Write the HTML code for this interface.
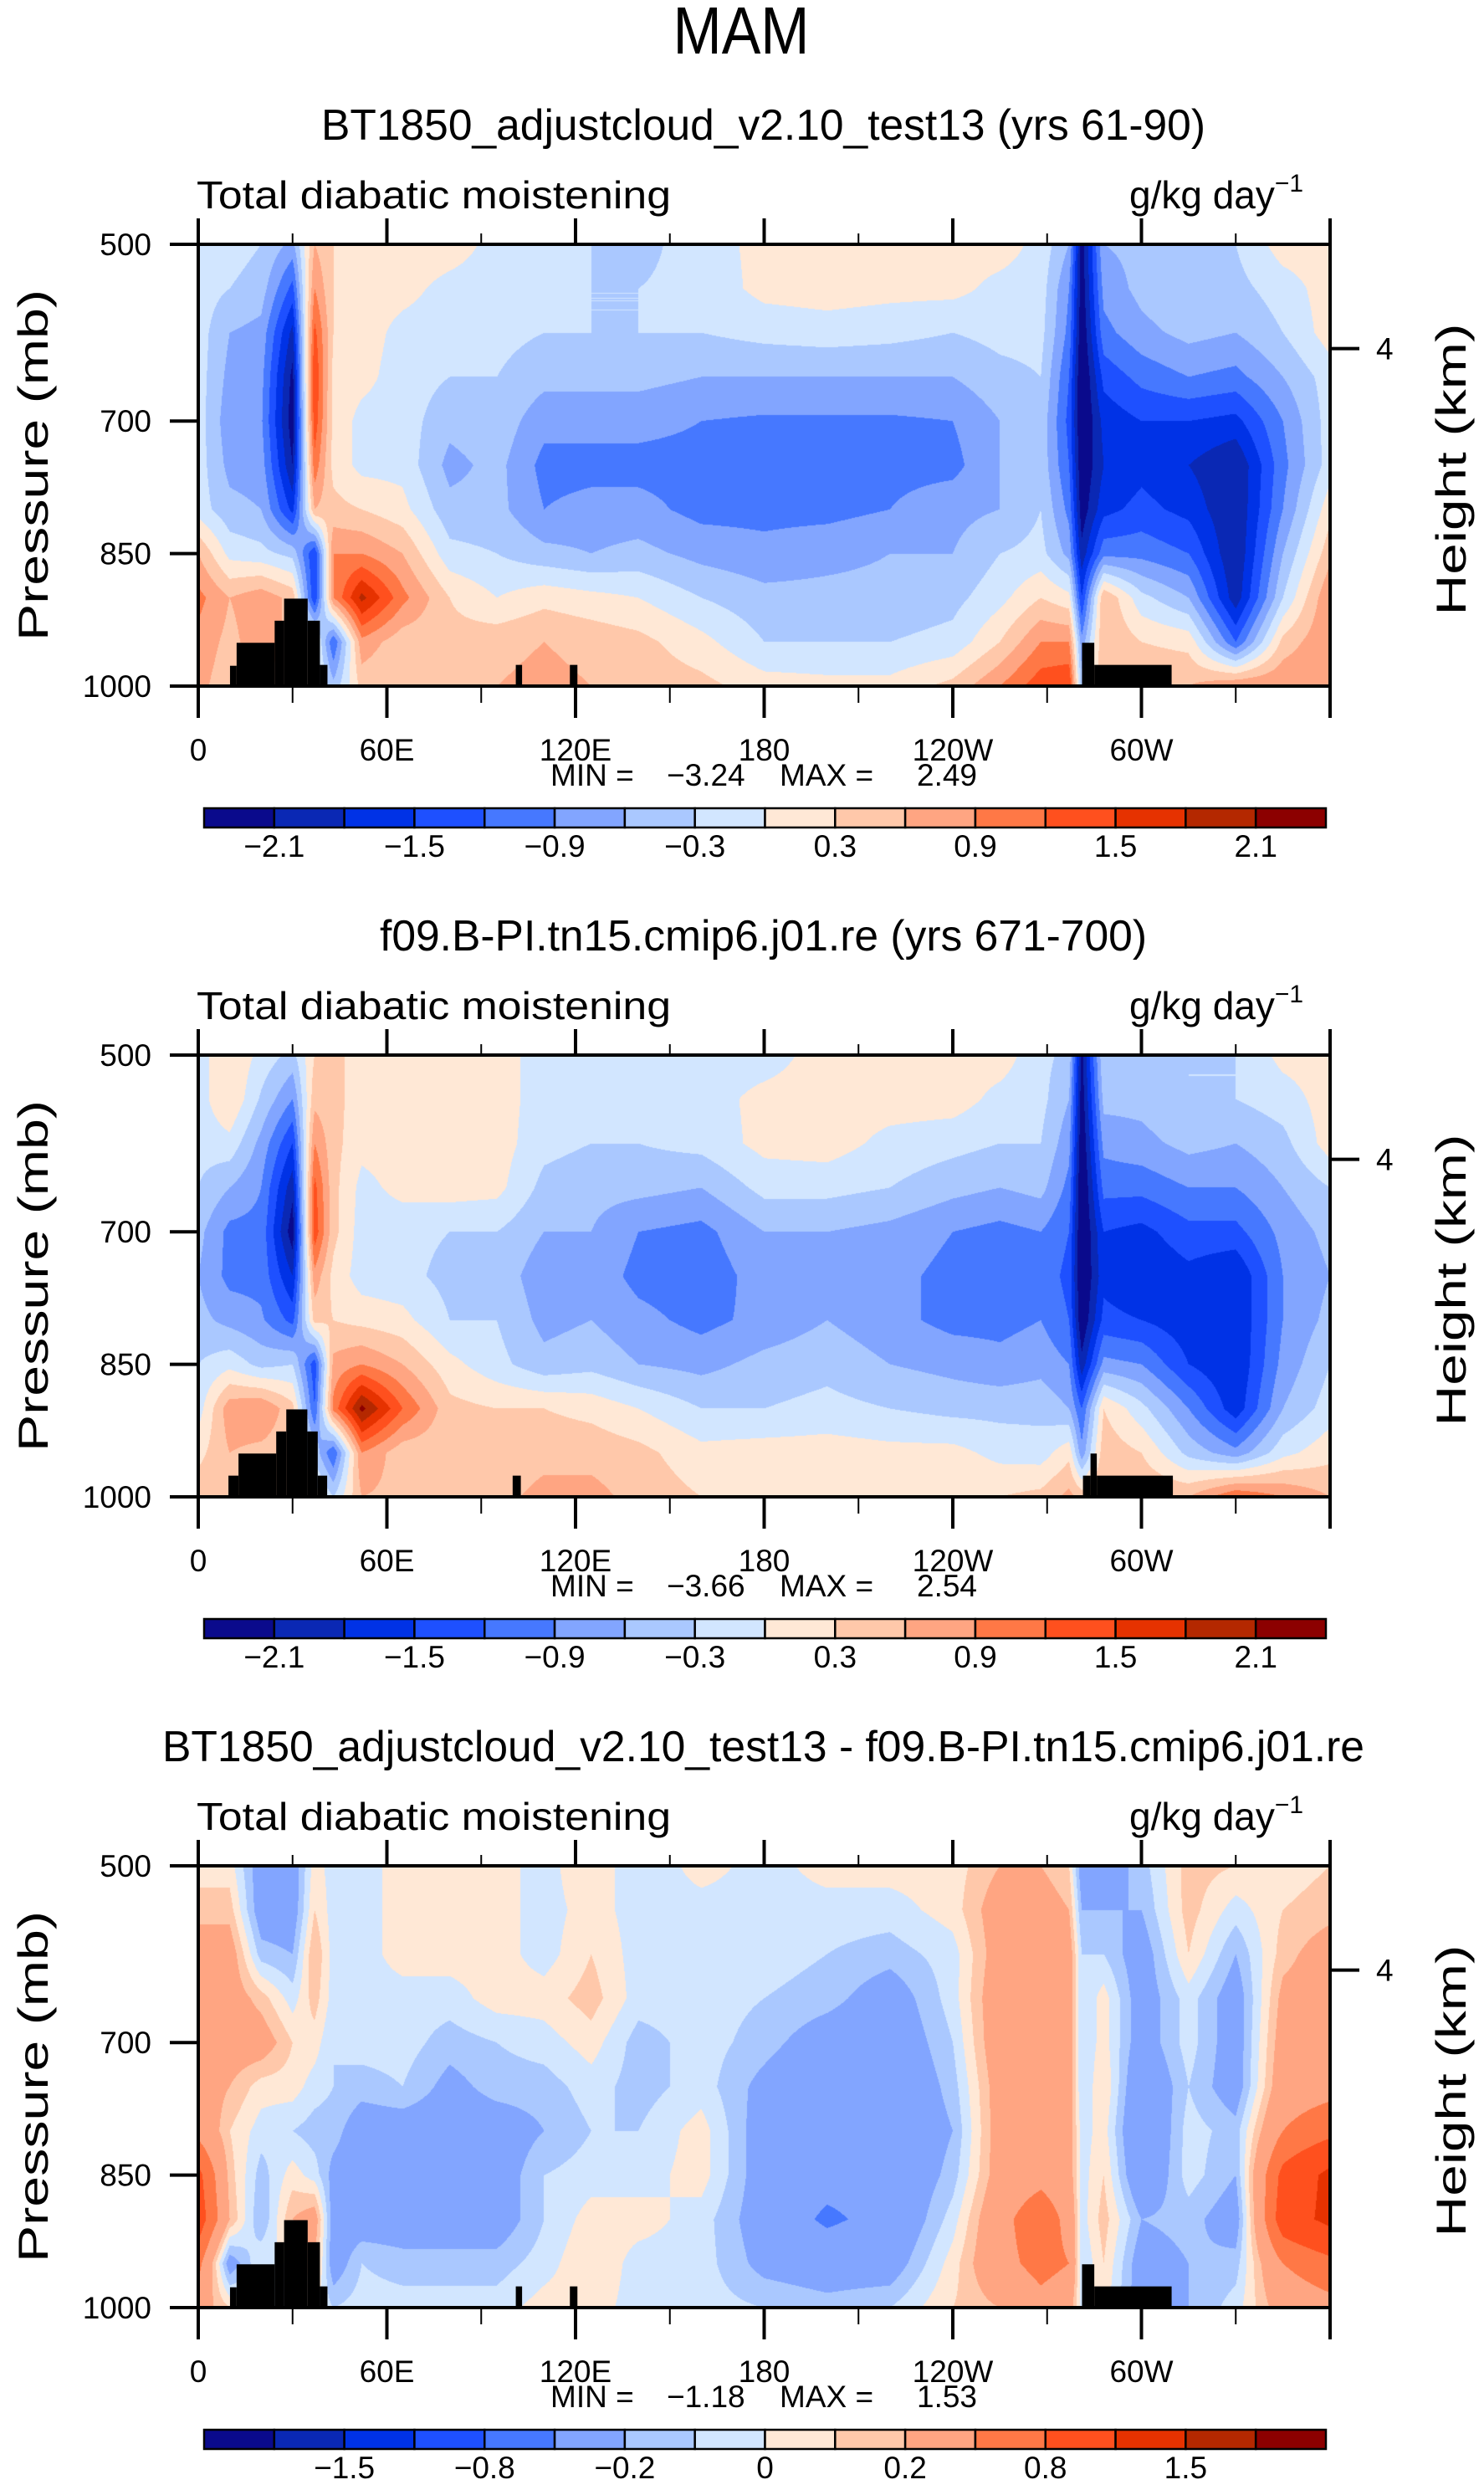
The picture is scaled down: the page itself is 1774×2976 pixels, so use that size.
<!DOCTYPE html>
<html><head><meta charset="utf-8"><title>MAM Total diabatic moistening</title>
<style>
body{margin:0;width:1774px;height:2976px;background:#fff;position:relative;overflow:hidden;font-family:"Liberation Sans",sans-serif}
canvas{position:absolute}
svg{position:absolute;left:0;top:0}
text{font-family:"Liberation Sans",sans-serif;fill:#000}
</style></head>
<body>
<canvas id="c0" width="1353" height="528" style="left:237px;top:292px"></canvas>
<canvas id="c1" width="1353" height="528" style="left:237px;top:1261px"></canvas>
<canvas id="c2" width="1353" height="528" style="left:237px;top:2230px"></canvas>
<svg id="s" width="1774" height="2976" xmlns="http://www.w3.org/2000/svg">
<text x="886" y="64" font-size="80" text-anchor="middle" textLength="163" lengthAdjust="spacingAndGlyphs">MAM</text>
</svg>
<script>
// ---- data ----
const lons=[0,10,20,30,37,43,52,65,80,95,110,125,140,160,180,200,220,240,255,268,277,281,288,300,315,330,345,360];
const pres=[500,550,600,650,700,750,800,850,900,950,1000];
const field1=[
[-0.15,-0.15,-0.15,-0.15,-0.15,-0.15,-0.15,0.6,1.0,0.8,0.7],
[-0.15,-0.3,-0.6,-0.7,-0.8,-0.7,-0.5,-0.1,0.6,0.5,0.4],
[-0.3,-0.45,-0.7,-0.8,-0.85,-0.75,-0.6,-0.2,0.8,0.8,0.6],
[-0.7,-1.3,-1.9,-2.2,-2.3,-2.1,-1.6,-0.4,0.5,0.5,0.4],
[0.6,0.9,1.3,1.5,1.4,1.1,0.6,-1.5,-1.5,0.2,0.2],
[0.3,0.3,0.3,0.2,0.2,0.2,0.4,0.9,0.9,-1.2,-0.5],
[0.2,0.15,0.15,0.1,-0.1,-0.1,0.3,0.9,1.9,0.8,0.4],
[0.2,0.1,-0.1,-0.15,-0.15,-0.1,0.1,0.6,1.0,0.4,0.3],
[0.15,-0.1,-0.15,-0.3,-0.5,-0.7,-0.5,-0.2,0.3,0.4,0.4],
[-0.1,-0.15,-0.2,-0.3,-0.4,-0.5,-0.5,-0.3,0.0,0.5,0.6],
[-0.15,-0.2,-0.3,-0.5,-0.8,-1.0,-0.9,-0.5,0.2,0.6,0.7],
[-0.3,-0.3,-0.3,-0.5,-0.8,-1.0,-0.8,-0.6,0.1,0.5,0.6],
[-0.4,-0.3,-0.3,-0.5,-0.8,-1.0,-0.8,-0.5,0.0,0.4,0.5],
[-0.15,-0.2,-0.3,-0.6,-0.9,-1.0,-1.0,-0.7,-0.3,0.1,0.4],
[0.1,0.1,-0.2,-0.6,-0.95,-1.0,-1.0,-0.8,-0.5,-0.3,0.15],
[0.15,0.15,-0.15,-0.6,-0.95,-1.0,-1.0,-0.7,-0.5,-0.3,0.1],
[0.15,0.1,-0.2,-0.6,-0.95,-1.0,-0.9,-0.6,-0.5,-0.3,0.1],
[0.15,0.1,-0.3,-0.6,-0.9,-1.0,-0.7,-0.6,-0.4,-0.2,0.4],
[0.15,-0.1,-0.2,-0.4,-0.6,-0.6,-0.6,-0.3,-0.1,0.3,0.9],
[-0.1,-0.15,-0.2,-0.3,-0.4,-0.4,-0.3,-0.2,0.3,0.9,1.4],
[-0.6,-0.9,-1.0,-1.2,-1.3,-1.2,-1.0,-0.7,0.1,0.9,1.5],
[-2.3,-2.3,-2.4,-2.5,-2.5,-2.4,-2.3,-2.0,-1.5,-0.8,-0.5],
[-0.6,-0.8,-1.0,-1.4,-1.7,-1.8,-1.6,-1.0,0.6,0.6,0.6],
[-0.5,-0.5,-0.7,-1.1,-1.5,-1.6,-1.4,-1.0,-0.2,0.3,0.6],
[-0.4,-0.3,-0.5,-0.9,-1.5,-1.8,-1.6,-1.2,-0.6,0.2,0.6],
[-0.3,-0.4,-0.6,-1.0,-1.6,-2.1,-2.1,-2.1,-2.0,-1.2,0.9],
[0.15,-0.15,-0.3,-0.6,-0.9,-1.0,-0.9,-0.6,-0.3,0.4,0.9],
[0.15,0.15,0.15,-0.15,-0.15,-0.15,0.2,0.5,0.9,0.9,0.9]];
const field2=[
[-0.15,-0.15,-0.2,-0.3,-0.5,-0.6,-0.5,-0.3,-0.15,0.2,0.5],
[0.3,0.3,-0.1,-0.6,-1.0,-1.0,-0.7,-0.1,0.8,0.6,0.5],
[-0.1,-0.35,-0.7,-0.9,-1.0,-1.0,-0.85,-0.4,0.9,0.5,0.4],
[-0.4,-0.9,-1.5,-2.0,-2.3,-1.8,-1.3,-0.3,0.4,0.4,0.3],
[0.3,0.5,0.9,1.3,1.4,0.8,0.4,-1.4,-1.2,-0.4,0.2],
[0.4,0.4,0.4,0.4,0.4,0.2,0.3,0.7,1.0,-1.2,-0.3],
[0.15,0.15,0.1,-0.1,-0.15,-0.15,0.2,0.9,2.2,0.9,0.6],
[0.15,0.15,0.15,0.1,-0.2,-0.2,0.1,0.6,1.2,0.4,0.5],
[0.15,0.2,0.15,0.15,-0.3,-0.4,-0.3,0.1,0.4,0.4,0.6],
[0.15,0.15,0.15,0.1,-0.3,-0.4,-0.3,-0.2,0.3,0.4,0.5],
[-0.15,-0.15,-0.2,-0.4,-0.6,-0.8,-0.7,-0.5,0.3,0.5,0.7],
[-0.3,-0.3,-0.3,-0.5,-0.6,-0.7,-0.6,-0.4,0.2,0.5,0.7],
[-0.3,-0.2,-0.3,-0.5,-0.9,-1.0,-0.8,-0.6,0.0,0.4,0.5],
[-0.15,-0.15,-0.2,-0.6,-1.0,-1.1,-1.0,-0.7,-0.3,0.1,0.3],
[-0.15,0.1,0.1,-0.2,-0.6,-0.75,-0.8,-0.5,-0.3,0.15,0.3],
[0.15,0.15,0.15,-0.2,-0.6,-0.7,-0.6,-0.4,-0.2,0.15,0.3],
[0.15,0.15,-0.1,-0.3,-0.7,-0.8,-0.8,-0.6,-0.3,0.1,0.3],
[0.15,0.15,-0.2,-0.5,-0.9,-1.0,-1.0,-0.7,-0.4,0.1,0.3],
[0.15,-0.1,-0.3,-0.6,-1.0,-1.0,-1.0,-0.8,-0.4,-0.1,0.3],
[-0.2,-0.2,-0.3,-0.5,-0.9,-1.0,-0.9,-0.7,-0.4,-0.15,0.4],
[-0.4,-0.6,-0.8,-1.0,-1.2,-1.3,-1.2,-0.9,-0.6,0.2,0.7],
[-2.2,-2.3,-2.4,-2.5,-2.5,-2.5,-2.4,-2.0,-1.2,-0.8,0.5],
[-0.3,-0.5,-0.8,-1.1,-1.5,-1.6,-1.4,-0.8,0.3,0.5,0.6],
[-0.4,-0.5,-0.7,-1.1,-1.6,-1.8,-1.5,-0.9,-0.2,0.3,0.6],
[-0.3,-0.3,-0.5,-0.9,-1.3,-1.6,-1.7,-1.5,-0.9,-0.4,0.6],
[-0.3,-0.3,-0.6,-0.9,-1.3,-1.8,-1.8,-1.8,-1.7,-0.8,1.2],
[0.1,-0.15,-0.4,-0.6,-0.8,-0.9,-0.9,-0.8,-0.6,-0.1,0.9],
[0.15,0.15,0.15,-0.3,-0.5,-0.6,-0.5,-0.3,-0.15,0.2,0.6]];
const field3=[
[0.05,0.15,0.3,0.3,0.3,0.3,0.4,0.9,1.0,0.6,0.3],
[0.05,0.15,0.3,0.3,0.3,0.2,0.1,0.15,0.2,-0.3,0.1],
[-0.3,-0.3,-0.15,0.15,0.3,0.05,-0.05,-0.15,-0.2,0,0],
[-0.3,-0.3,-0.2,-0.05,0.1,0.05,-0.1,0.05,0.2,0,0],
[0.05,0.1,0.2,0.15,0.05,-0.05,-0.15,-0.05,0.3,0.2,0],
[-0.05,-0.05,-0.05,-0.05,-0.1,-0.1,-0.15,-0.25,-0.3,-0.3,-0.1],
[-0.05,-0.05,-0.05,-0.05,-0.05,-0.15,-0.3,-0.3,-0.3,-0.1,-0.05],
[0.05,0.05,0.05,-0.05,-0.05,-0.1,-0.3,-0.3,-0.3,-0.15,-0.05],
[0.05,0.05,0.05,-0.05,-0.15,-0.25,-0.3,-0.35,-0.3,-0.15,-0.05],
[0.05,0.05,0.05,0.05,-0.1,-0.15,-0.3,-0.3,-0.3,-0.15,-0.05],
[-0.05,-0.05,-0.05,0.05,-0.05,-0.15,-0.2,-0.1,-0.1,-0.05,0.05],
[0.1,0.05,0.1,0.15,0.05,-0.05,-0.1,-0.05,0.05,0.1,0.05],
[-0.1,-0.05,-0.05,-0.05,-0.15,-0.15,-0.1,-0.05,0.05,-0.05,-0.05],
[0.05,-0.05,-0.05,-0.05,-0.05,-0.05,0.05,0.05,-0.05,-0.05,-0.05],
[-0.05,-0.05,-0.05,-0.1,-0.15,-0.25,-0.3,-0.3,-0.3,-0.25,-0.1],
[0.05,-0.05,-0.1,-0.15,-0.3,-0.4,-0.45,-0.4,-0.55,-0.3,-0.15],
[0.05,-0.05,-0.15,-0.3,-0.35,-0.4,-0.4,-0.4,-0.4,-0.3,-0.1],
[0.05,0.05,-0.05,-0.05,-0.1,-0.15,-0.2,-0.15,-0.05,0.05,0.1],
[0.2,0.3,0.3,0.35,0.35,0.3,0.3,0.3,0.4,0.4,0.2],
[0.2,0.3,0.35,0.4,0.4,0.4,0.35,0.4,0.7,0.6,0.4],
[0.1,0.2,0.3,0.3,0.3,0.3,0.3,0.3,0.4,0.5,0.3],
[-0.3,-0.2,-0.1,-0.1,-0.1,-0.1,-0.05,-0.05,-0.05,-0.1,-0.05],
[-0.3,-0.2,-0.1,0.05,0.05,0.1,0.05,0.1,0.15,0.1,0.05],
[-0.15,-0.2,-0.3,-0.3,-0.3,-0.4,-0.45,-0.4,-0.2,-0.3,-0.3],
[0.15,0.15,0.1,-0.05,-0.05,-0.1,-0.05,-0.05,-0.15,-0.2,-0.2],
[0.1,-0.05,-0.2,-0.3,-0.3,-0.3,-0.15,-0.2,-0.3,-0.15,-0.05],
[0.05,0.1,0.15,0.25,0.3,0.35,0.5,0.9,1.0,0.5,0.3],
[0.1,0.15,0.3,0.3,0.35,0.4,0.7,1.3,1.3,0.7,0.4]];
const levelsAbs=[-2.1,-1.8,-1.5,-1.2,-0.9,-0.6,-0.3,0,0.3,0.6,0.9,1.2,1.5,1.8,2.1];
const levelsDiff=[-1.8,-1.5,-1.2,-0.8,-0.5,-0.2,-0.1,0,0.1,0.2,0.5,0.8,1.2,1.5,1.8];
const colors=["#0a0a8c","#0a28b4","#0032e6","#1e50ff","#4678ff","#82a5ff","#aac8ff","#d2e6ff","#ffe8d6","#ffc8aa","#ffa582","#ff7846","#ff501e","#e63200","#b42800","#8c0000"];
const labelsAbs=["−2.1","−1.5","−0.9","−0.3","0.3","0.9","1.5","2.1"];
const labelIdxAbs=[1,3,5,7,9,11,13,15];
const labelsDiff=["−1.5","−0.8","−0.2","0","0.2","0.8","1.5"];
const labelIdxDiff=[2,4,6,8,10,12,14];
const xTickLons=[0,30,60,90,120,150,180,210,240,270,300,330,360];
const xLabelLons=[0,60,120,180,240,300];
const xLabels=["0","60E","120E","180","120W","60W"];
const yTickP=[500,700,850,1000];
const yLabels=["500","700","850","1000"];
const heightTickP=[618];
const heightLabels=["4"];
const terrainLon0A=[10.1,12.2,24.3,27.3,34.8,38.7,101,118.2,281.1,285];
const terrainLon1A=[12.2,24.3,27.3,34.8,38.7,41.1,103,120.6,285,309.6];
const terrainTopA=[977,951,926,901,926,976,976,976,951,976];
const terrainLon0B=[9.6,12.8,24.8,28,34.7,38,100,281.4,283.8,285.8];
const terrainLon1B=[12.8,24.8,28,34.7,38,41,102.6,283.8,285.8,310];
const terrainTopB=[976,951,926,901,926,976,976,976,951,976];
const titles=["BT1850_adjustcloud_v2.10_test13 (yrs 61-90)","f09.B-PI.tn15.cmip6.j01.re (yrs 671-700)","BT1850_adjustcloud_v2.10_test13 - f09.B-PI.tn15.cmip6.j01.re"];
const titleX0=[384,454,194];
const titleX1=[1441,1371,1631];
const minVals=["−3.24","−3.66","−1.18"];
const maxVals=["2.49","2.54","1.53"];

// ---- layout ----
const PL=237,PW=1353,PH=528;
const panelTops=[292,1261,2230];
const NS="http://www.w3.org/2000/svg";
const svg=document.getElementById('s');
function xS(lon){return PL+lon/360*PW;}
function yS(p,top){return top+(p-500)/500*PH;}
function mk(tag,attrs,parent){const e=document.createElementNS(NS,tag);for(const k in attrs)e.setAttribute(k,attrs[k]);(parent||svg).appendChild(e);return e;}

function drawField(cv,field,levels){
  const ctx=cv.getContext('2d');const img=ctx.createImageData(PW,PH);const d=img.data;
  const rgb=colors.map(c=>[parseInt(c.substr(1,2),16),parseInt(c.substr(3,2),16),parseInt(c.substr(5,2),16)]);
  const ci=new Int32Array(PW),cf=new Float32Array(PW);
  for(let x=0;x<PW;x++){const lon=(x+0.5)/PW*360;let i=0;while(i<lons.length-2&&lon>lons[i+1])i++;ci[x]=i;cf[x]=(lon-lons[i])/(lons[i+1]-lons[i]);}
  for(let y=0;y<PH;y++){
    const p=500+(y+0.5)/PH*500;let j=Math.min(9,Math.floor((p-500)/50));const fy=(p-pres[j])/50;
    for(let x=0;x<PW;x++){
      const i=ci[x],fx=cf[x];
      const a=field[i][j]*(1-fx)+field[i+1][j]*fx;
      const b=field[i][j+1]*(1-fx)+field[i+1][j+1]*fx;
      const v=a*(1-fy)+b*fy;
      let k=0;while(k<levels.length&&v>levels[k])k++;
      const c=rgb[k],o=(y*PW+x)*4;d[o]=c[0];d[o+1]=c[1];d[o+2]=c[2];d[o+3]=255;
    }
  }
  ctx.putImageData(img,0,0);
}
const fields=[field1,field2,field3];
const levs=[levelsAbs,levelsAbs,levelsDiff];
for(let k=0;k<3;k++)drawField(document.getElementById('c'+k),fields[k],levs[k]);

const CBX=244,CBW=1341,CBH=23;
for(let k=0;k<3;k++){
  const top=panelTops[k];
  const g=mk('g',{});
  
  
  const t0=k===1?terrainLon0B:terrainLon0A,t1=k===1?terrainLon1B:terrainLon1A,tt=k===1?terrainTopB:terrainTopA;
  for(let i=0;i<t0.length;i++){
    const r=mk('rect',{x:xS(t0[i]),y:yS(tt[i],top),width:xS(t1[i])-xS(t0[i]),height:yS(1000,top)-yS(tt[i],top),fill:'#000'},g);
    
    
  }
  const fr=mk('rect',{x:PL,y:top,width:PW,height:PH,fill:'none',stroke:'#000','stroke-width':4},g);
  
  
  for(const lon of xTickLons){
    const maj=lon%60===0;const x=xS(lon);
    const t1e=mk('line',{x1:x,x2:x,y1:top,y2:top-(maj?31:13),stroke:'#000','stroke-width':maj?4:2},g);
    
    
    const t2e=mk('line',{x1:x,x2:x,y1:top+PH,y2:top+PH+(maj?38:20),stroke:'#000','stroke-width':maj?4:2},g);
    
    
  }
  for(let i=0;i<xLabelLons.length;i++){
    const tx=mk('text',{x:xS(xLabelLons[i]),y:top+PH+89,'font-size':37,'text-anchor':'middle'},g);
    tx.textContent=xLabels[i];
    
    
  }
  for(let i=0;i<yTickP.length;i++){
    const y=yS(yTickP[i],top);
    const ln=mk('line',{x1:PL,x2:PL-34,y1:y,y2:y,stroke:'#000','stroke-width':4},g);
    
    
    const tx=mk('text',{x:181,y:y+13,'font-size':37,'text-anchor':'end'},g);
    tx.textContent=yLabels[i];
    
    
  }
  for(let i=0;i<heightTickP.length;i++){
    const y=yS(heightTickP[i],top);
    const ln=mk('line',{x1:PL+PW,x2:PL+PW+35,y1:y,y2:y,stroke:'#000','stroke-width':4},g);
    
    
    const tx=mk('text',{x:1645,y:y+13,'font-size':37},g);
    tx.textContent=heightLabels[i];
    
    
  }
  const yt=mk('text',{x:0,y:0,'font-size':50,'text-anchor':'middle',textLength:420,lengthAdjust:'spacingAndGlyphs',transform:`translate(57,${top+264}) rotate(-90)`},g);
  yt.textContent='Pressure  (mb)';
  
  
  const ht=mk('text',{x:0,y:0,'font-size':50,'text-anchor':'middle',textLength:349,lengthAdjust:'spacingAndGlyphs',transform:`translate(1752,${top+269}) rotate(-90)`},g);
  ht.textContent='Height  (km)';
  
  
  const ti=mk('text',{x:titleX0[k],y:top-125,'font-size':52,textLength:titleX1[k]-titleX0[k],lengthAdjust:'spacingAndGlyphs'},g);
  ti.textContent=titles[k];
  
  
  const lt=mk('text',{x:235,y:top-43,'font-size':46,textLength:567,lengthAdjust:'spacingAndGlyphs'},g);
  lt.textContent='Total diabatic moistening';
  
  
  const ut=mk('text',{x:1350,y:top-43,'font-size':46},g);
  ut.innerHTML='g/kg day<tspan font-size="30" dy="-20">−1</tspan>';
  
  
  const mm=[["MIN  =",658],[minVals[k],797],["MAX  =",932],[maxVals[k],1096]];
  for(const [s,x] of mm){
    const tx=mk('text',{x:x,y:top+PH+119,'font-size':37},g);
    tx.textContent=s;
    
    
  }
  const cby=top+674, bw=CBW/colors.length;
  for(let i=0;i<colors.length;i++){
    const r=mk('rect',{x:CBX+i*bw,y:cby,width:bw,height:CBH,fill:colors[i],stroke:'#000','stroke-width':2.5},g);
    
    
  }
  const lb=k===2?labelsDiff:labelsAbs, li=k===2?labelIdxDiff:labelIdxAbs;
  for(let i=0;i<lb.length;i++){
    const tx=mk('text',{x:CBX+li[i]*bw,y:top+732,'font-size':37,'text-anchor':'middle'},g);
    tx.textContent=lb[i];
    
    
  }
}
</script>
</body></html>
